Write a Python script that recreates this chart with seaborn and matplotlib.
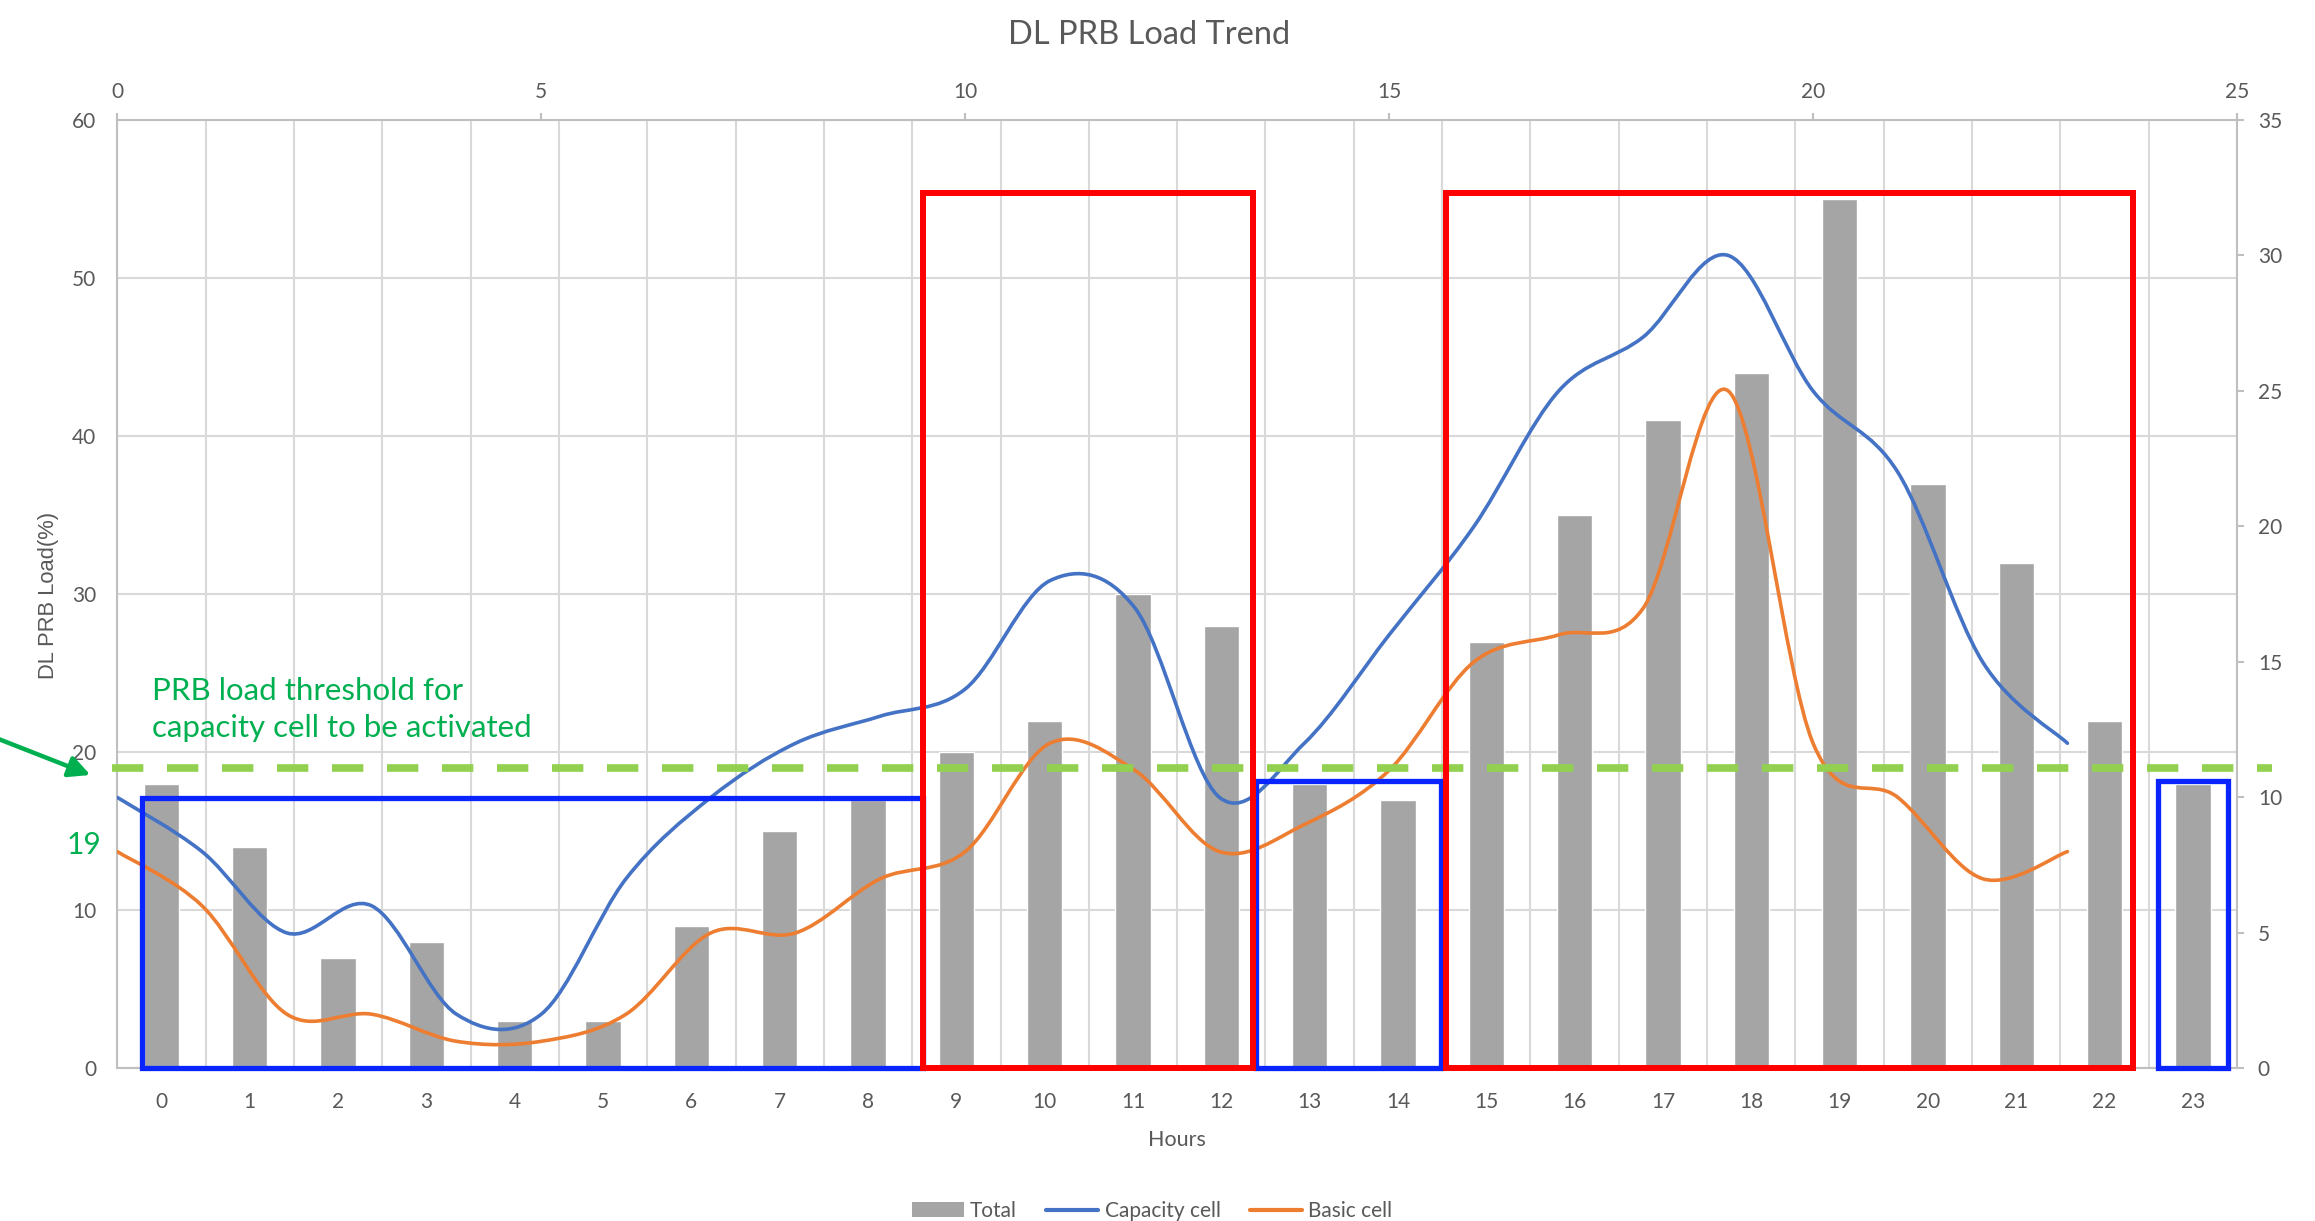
import numpy as np
import pandas as pd
import seaborn as sns
import matplotlib
matplotlib.use("Agg")
import matplotlib.pyplot as plt
from matplotlib.path import Path
from matplotlib.patches import PathPatch, Rectangle, Patch
from matplotlib.lines import Line2D

# ==========================================
# DATA
# ==========================================
HOURS = [str(h) for h in range(24)]
TOTAL = [18, 14, 7, 8, 3, 3, 9, 15, 17, 20, 22, 30, 28, 18, 17, 27, 35, 41, 44, 55, 37, 32, 22, 18]
LINE_X = list(range(24))  # secondary (top) x axis
CAPACITY = [10, 8, 5, 6, 2, 2, 7, 10, 12, 13, 14, 18, 17, 10, 12, 16, 20, 25, 27, 30, 25, 22, 15, 12]
BASIC = [8, 6, 2, 2, 1, 1, 2, 5, 5, 7, 8, 12, 11, 8, 9, 11, 15, 16, 17, 25, 12, 10, 7, 8]
THRESHOLD = 19

# highlight boxes in bar-axis units: (left, right, top, colour)
BOXES = [
    (-0.22, 8.62, 17.1, "#0A24FF"),
    (12.39, 14.49, 18.2, "#0A24FF"),
    (22.60, 23.40, 18.2, "#0A24FF"),
    (8.62, 12.36, 55.4, "#FF0000"),
    (14.54, 22.32, 55.4, "#FF0000"),
]

GREY_TXT = "#595959"
GREEN = "#00B050"

sns.set_style("white")
plt.rcParams["font.family"] = ["Lato", "DejaVu Sans"]

W, H = 2315, 1221
fig = plt.figure(figsize=(W / 100, H / 100), dpi=100)


def fx(px):
    return px / W


def fy(py):
    return 1 - py / H


rect = [fx(117.3), fy(1068.4), fx(2237) - fx(117.3), fy(120) - fy(1068.4)]
ax = fig.add_axes(rect)
ax2 = fig.add_axes(rect, label="lines")
ax2.set_facecolor("none")

# ---- bars (primary axes) ----
df = pd.DataFrame({"Hours": HOURS, "Total": TOTAL})
sns.barplot(data=df, x="Hours", y="Total", order=HOURS, color="#A5A5A5",
            saturation=1, width=0.4, ax=ax, zorder=2)
ax.set_xlim(-0.5, 23.5)
ax.set_ylim(0, 60)
ax.set_yticks(range(0, 61, 10))
ax.set_xlabel("")
ax.set_ylabel("")
ax.set_xticks(np.arange(-0.5, 24, 1), minor=True)
ax.grid(True, which="major", axis="y", color="#D9D9D9", lw=1.5)
ax.grid(True, which="minor", axis="x", color="#D9D9D9", lw=1.5)
ax.grid(False, which="major", axis="x")
ax.set_axisbelow(True)
ax.tick_params(axis="x", which="both", length=0, pad=17, labelsize=15, labelcolor=GREY_TXT)
ax.tick_params(axis="y", length=0, pad=15, labelsize=15, labelcolor=GREY_TXT)
for s in ["top", "right"]:
    ax.spines[s].set_visible(False)
for s in ["left", "bottom"]:
    ax.spines[s].set_color("#BFBFBF")
    ax.spines[s].set_linewidth(1.5)


# ---- smoothed lines (secondary axes), excel style bezier ----
def smooth_path(xs, ys):
    pts = np.column_stack([xs, ys]).astype(float)
    n = len(pts)
    verts = [pts[0]]
    codes = [Path.MOVETO]
    for i in range(n - 1):
        p0 = pts[i - 1] if i > 0 else pts[i]
        p1, p2 = pts[i], pts[i + 1]
        p3 = pts[i + 2] if i + 2 < n else pts[i + 1]
        verts += [p1 + (p2 - p0) / 6, p2 - (p3 - p1) / 6, p2]
        codes += [Path.CURVE4] * 3
    return Path(verts, codes)


for vals, col in [(CAPACITY, "#4472C4"), (BASIC, "#ED7D31")]:
    ax2.add_patch(PathPatch(smooth_path(LINE_X, vals), fill=False, edgecolor=col,
                            lw=2.6, capstyle="round", zorder=3))

ax2.set_xlim(0, 25)
ax2.set_ylim(0, 35)
ax2.set_xticks(range(0, 26, 5))
ax2.set_yticks(range(0, 36, 5))
ax2.xaxis.tick_top()
ax2.yaxis.tick_right()
ax2.tick_params(axis="x", length=5, width=1.5, color="#BFBFBF", pad=8, labelsize=15, labelcolor=GREY_TXT)
ax2.tick_params(axis="y", length=5, width=1.5, color="#BFBFBF", pad=10, labelsize=15, labelcolor=GREY_TXT)
ax2.grid(False)
for s in ["left", "bottom"]:
    ax2.spines[s].set_visible(False)
for s in ["top", "right"]:
    ax2.spines[s].set_color("#BFBFBF")
    ax2.spines[s].set_linewidth(1.5)

# ---- threshold line and boxes (drawn over everything) ----
ax2.plot([-0.563, 23.90], [THRESHOLD, THRESHOLD], transform=ax.transData, clip_on=False,
         color="#92D050", lw=5.5, linestyle=(0, (4.1, 3.1)), zorder=4)
for left, right, top, col in BOXES:
    lw = 4.3 if col == "#FF0000" else 3.8
    ax2.add_patch(Rectangle((left, 0), right - left, top, transform=ax.transData,
                            fill=False, edgecolor=col, lw=lw, clip_on=False,
                            joinstyle="miter", zorder=5))
ax2.set_xlim(0, 25)
ax2.set_ylim(0, 35)

# ---- texts ----
fig.text(fx(1149), fy(43.7), "DL PRB Load Trend", ha="center", va="baseline",
         fontsize=23.5, color=GREY_TXT)
fig.text(fx(48.7), fy(595), "DL PRB Load(%)", rotation=90, ha="center", va="center",
         fontsize=15.8, color=GREY_TXT, family=["Liberation Sans", "DejaVu Sans"])
fig.text(fx(1177), fy(1140), "Hours", ha="center", va="center", fontsize=15.5, color=GREY_TXT)
fig.text(fx(152), fy(700), "PRB load threshold for", ha="left", va="baseline",
         fontsize=22.5, color=GREEN)
fig.text(fx(152), fy(737), "capacity cell to be activated", ha="left", va="baseline",
         fontsize=22.5, color=GREEN)
fig.text(fx(84), fy(845), "19", ha="center", va="center", fontsize=21.5, color=GREEN)
fig.add_artist(matplotlib.patches.FancyArrowPatch(
    (fx(-4), fy(738)), (fx(93), fy(776)), transform=fig.transFigure,
    arrowstyle="-|>", mutation_scale=32, lw=3.2, color=GREEN))

# ---- legend ----
handles = [Patch(facecolor="#A5A5A5", edgecolor="none"),
           Line2D([], [], color="#4472C4", lw=3),
           Line2D([], [], color="#ED7D31", lw=3)]
fig.legend(handles, ["Total", "Capacity cell", "Basic cell"], loc="center",
           bbox_to_anchor=(fx(1152), fy(1211)), ncol=3, frameon=False, fontsize=15,
           labelcolor=GREY_TXT, handlelength=2.5, handletextpad=0.3, columnspacing=1.4)

fig.savefig("out.png", dpi=100)
